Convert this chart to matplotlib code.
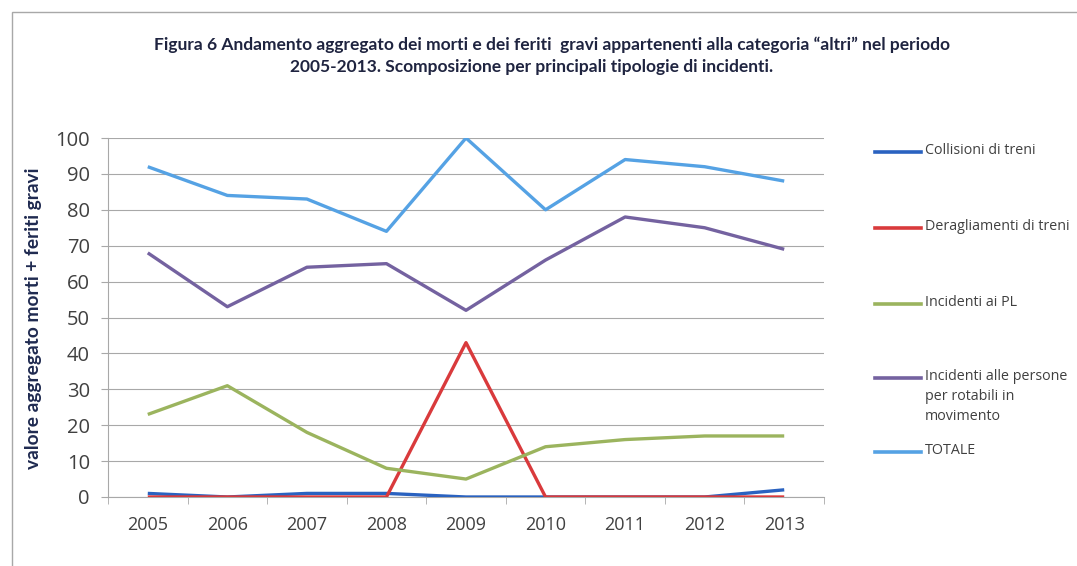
import matplotlib
matplotlib.use("Agg")
import matplotlib.pyplot as plt
from matplotlib.lines import Line2D
from matplotlib.patches import Rectangle
from matplotlib import font_manager

years = ["2005", "2006", "2007", "2008", "2009", "2010", "2011", "2012", "2013"]
collisioni = [1, 0, 1, 1, 0, 0, 0, 0, 2]
deragliamenti = [0, 0, 0, 0, 43, 0, 0, 0, 0]
incidenti_pl = [23, 31, 18, 8, 5, 14, 16, 17, 17]
incidenti_persone = [68, 53, 64, 65, 52, 66, 78, 75, 69]
totale = [92, 84, 83, 74, 100, 80, 94, 92, 88]

series_labels = ["Collisioni di treni", "Deragliamenti di treni", "Incidenti ai PL",
                 "Incidenti alle persone\nper rotabili in\nmovimento", "TOTALE"]
series_values = [collisioni, deragliamenti, incidenti_pl, incidenti_persone, totale]
series_colors = ["#2A62C0", "#D93A3C", "#9BB45E", "#7462A0", "#55A2E4"]
y_ticks = [0, 10, 20, 30, 40, 50, 60, 70, 80, 90, 100]

names = {f.name for f in font_manager.fontManager.ttflist}
narrow = "Liberation Sans Narrow" if "Liberation Sans Narrow" in names else "Open Sans"

W, H = 1077, 566
fig = plt.figure(figsize=(W / 100, H / 100), dpi=100)
fig.patch.set_facecolor("white")

# outer frame (only left and top visible)
fig.add_artist(Rectangle((12 / W, -0.2), 1.5, (H - 12) / H + 0.2, transform=fig.transFigure,
                         fill=False, edgecolor="#A8A8A8", linewidth=1.0))

ax = fig.add_axes([108 / W, 69 / H, (824 - 108) / W, (497 - 138) / H])
x = list(range(len(years)))
for vals, col, lab in zip(series_values, series_colors, series_labels):
    ax.plot(x, vals, color=col, linewidth=2.4, solid_capstyle="butt", label=lab, zorder=3)

ax.set_xlim(-0.5, len(years) - 0.5)
ax.set_ylim(0, 100)
ax.set_yticks(y_ticks)
ax.set_xticks(x)
ax.set_xticklabels(years)
ax.set_xticks([i - 0.5 for i in range(len(years) + 1)], minor=True)
ax.grid(axis="y", color="#A8A8A8", linewidth=0.8, zorder=0)
for s in ["top", "right"]:
    ax.spines[s].set_visible(False)
for s in ["left", "bottom"]:
    ax.spines[s].set_color("#A8A8A8")
    ax.spines[s].set_linewidth(0.8)
ax.tick_params(axis="y", which="major", length=5, color="#A8A8A8", labelsize=14.5,
               labelcolor="#404040", pad=8)
ax.tick_params(axis="x", which="major", length=0, labelsize=13, labelcolor="#404040", pad=14)
ax.tick_params(axis="x", which="minor", length=5, color="#A8A8A8")
for t in ax.get_yticklabels():
    t.set_fontfamily("Open Sans")
for t in ax.get_xticklabels():
    t.set_fontfamily(narrow)

fig.text(34 / W, 1 - 318 / H, "valore aggregato morti + feriti gravi", rotation=90,
         ha="center", va="center", fontsize=13.8, fontweight="bold", color="#1F2A50",
         family="Lato")

fig.text(552 / W, 1 - 45 / H,
         "Figura 6 Andamento aggregato dei morti e dei feriti  gravi appartenenti alla categoria \u201caltri\u201d nel periodo",
         ha="center", va="center", fontsize=12.5, fontweight="bold", color="#1F2440", family="Lato")
fig.text(532 / W, 1 - 67 / H,
         "2005-2013. Scomposizione per principali tipologie di incidenti.",
         ha="center", va="center", fontsize=12.5, fontweight="bold", color="#1F2440", family="Lato")

# legend drawn manually at the Excel-like positions
leg_y = [152, 228, 304, 378, 452]
for yy, col, lab in zip(leg_y, series_colors, series_labels):
    yf = 1 - yy / H
    fig.add_artist(Line2D([875 / W, 921 / W], [yf, yf], transform=fig.transFigure,
                          color=col, linewidth=2.6))
    fig.text(925 / W, yf + 9 / H, lab, ha="left", va="top", fontsize=10.3, color="#404040",
             family="Open Sans", linespacing=1.45)

fig.savefig("out.png", dpi=100)
